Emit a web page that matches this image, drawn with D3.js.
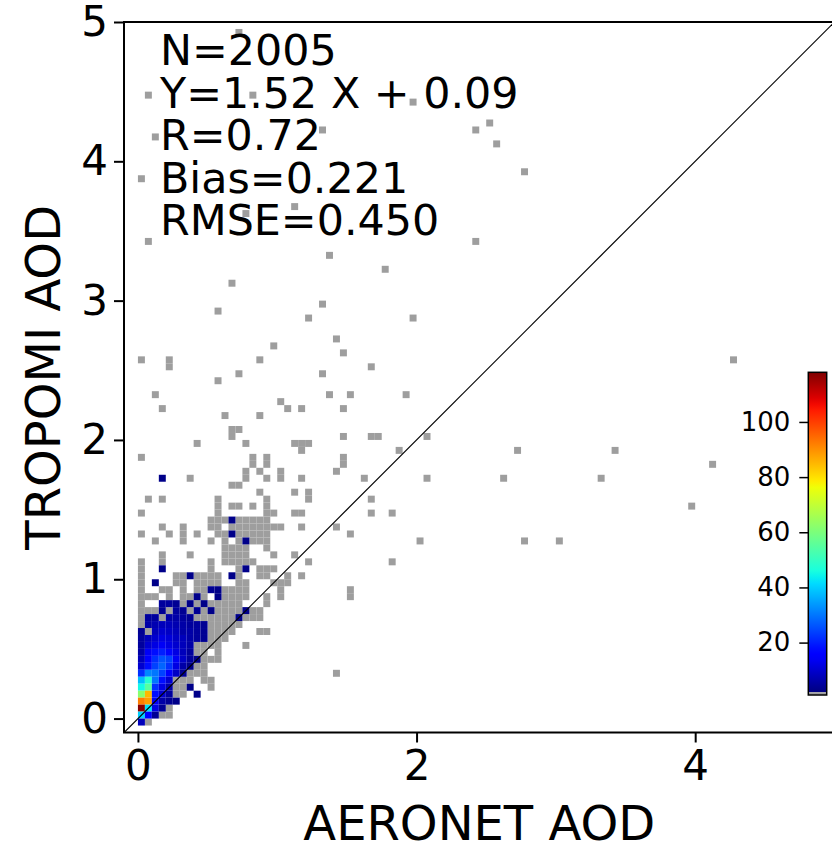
<!DOCTYPE html>
<html>
<head>
<meta charset="utf-8">
<script src="https://cdn.jsdelivr.net/npm/d3@7"></script>
<style>
  html, body { margin: 0; padding: 0; background: #fff; }
  svg { display: block; font-family: "DejaVu Sans", sans-serif; }
</style>
</head>
<body>
<div id="chart"></div>
<script>
// AERONET vs TROPOMI AOD – 2D histogram (bins of 0.05 AOD)
const BIN = 0.05;
const xTicks = [0, 2, 4];
const yTicks = [0, 1, 2, 3, 4, 5];
const cbarTicks = [20, 40, 60, 80, 100];
const statsLines = ["N=2005", "Y=1.52 X + 0.09", "R=0.72", "Bias=0.221", "RMSE=0.450"];

// bins holding a single match (grey): [TROPOMI bin, [AERONET bins]]
const singleRows = [
  [4.90, [0.70]],
  [4.45, [0.05, 0.80]],
  [4.40, [1.95]],
  [4.25, [2.50]],
  [4.20, [1.30, 2.40]],
  [4.15, [0.10]],
  [4.10, [2.55]],
  [3.90, [2.75]],
  [3.85, [0.00]],
  [3.65, [1.10]],
  [3.60, [0.75]],
  [3.40, [0.05, 2.40]],
  [3.30, [1.35]],
  [3.20, [1.75]],
  [3.10, [0.65]],
  [2.95, [1.30]],
  [2.90, [0.55]],
  [2.85, [1.20, 1.95]],
  [2.70, [1.40]],
  [2.65, [0.95]],
  [2.60, [1.45]],
  [2.55, [0.00, 0.20, 0.85, 4.25]],
  [2.50, [0.20, 1.65]],
  [2.45, [0.70, 1.30]],
  [2.40, [0.55]],
  [2.30, [0.10, 1.35, 1.50, 1.90]],
  [2.25, [1.00]],
  [2.20, [0.15, 1.05, 1.15, 1.45]],
  [2.15, [0.60, 0.85]],
  [2.05, [0.65, 0.70]],
  [2.00, [0.65, 1.45, 1.65, 1.70, 2.05]],
  [1.95, [0.40, 0.75, 1.10, 1.15, 1.20]],
  [1.90, [1.15, 1.85, 2.70, 3.40]],
  [1.85, [0.00, 0.80, 0.90, 1.45]],
  [1.80, [0.80, 0.90, 1.45, 4.10]],
  [1.75, [0.75, 0.85, 1.00, 1.40]],
  [1.70, [0.35, 0.75, 0.90, 1.00, 1.15, 1.60, 2.05, 2.60, 3.30]],
  [1.65, [0.65, 0.70]],
  [1.60, [0.85, 1.10, 1.20]],
  [1.55, [0.05, 0.15, 0.55, 0.90, 1.20, 1.65]],
  [1.50, [0.55, 0.65, 0.70, 0.80, 0.90, 3.95]],
  [1.45, [0.00, 0.55, 0.90, 0.95, 1.10, 1.15, 1.65, 1.80]],
  [1.40, [0.50, 0.55, 0.60, 0.70, 0.75, 0.80, 0.85, 0.90]],
  [1.35, [0.15, 0.30, 0.50, 0.55, 0.65, 0.70, 0.75, 0.80, 0.85, 0.90, 0.95, 1.00, 1.15, 1.40]],
  [1.30, [0.00, 0.20, 0.30, 0.40, 0.55, 0.60, 0.70, 0.75, 0.80, 0.85, 0.90, 1.50]],
  [1.25, [0.10, 0.30, 0.50, 0.60, 0.70, 0.80, 0.85, 0.90, 2.00, 2.75, 3.00]],
  [1.20, [0.60, 0.65, 0.70, 0.75, 0.90]],
  [1.15, [0.15, 0.35, 0.60, 0.65, 0.70, 0.75, 0.95, 1.10]],
  [1.10, [0.00, 0.15, 0.50, 0.60, 0.65, 0.70, 0.75, 0.80, 1.20, 1.80]],
  [1.05, [0.00, 0.50, 0.70, 0.85, 0.90, 0.95]],
  [1.00, [0.00, 0.25, 0.30, 0.40, 0.45, 0.50, 0.55, 0.70, 0.85, 0.90, 1.05, 1.15]],
  [0.95, [0.00, 0.25, 0.30, 0.40, 0.45, 0.50, 0.55, 0.70, 0.75, 0.95, 1.00, 1.05]],
  [0.90, [0.00, 0.15, 0.20, 0.30, 0.40, 0.45, 0.60, 0.65, 0.70, 0.75, 1.00, 1.50]],
  [0.85, [0.00, 0.05, 0.10, 0.20, 0.30, 0.35, 0.45, 0.60, 0.65, 0.70, 0.75, 0.90, 1.00, 1.50]],
  [0.80, [0.00, 0.30, 0.40, 0.50, 0.55, 0.60, 0.65, 0.70, 0.90]],
  [0.75, [0.00, 0.05, 0.10, 0.20, 0.35, 0.45, 0.55, 0.60, 0.65, 0.70, 0.80, 0.85]],
  [0.70, [0.00, 0.15, 0.40, 0.45, 0.50, 0.55, 0.60, 0.65, 0.75, 0.80, 0.85]],
  [0.65, [0.00, 0.50, 0.55, 0.60, 0.65, 0.70]],
  [0.60, [0.05, 0.50, 0.55, 0.60, 0.65, 0.85, 0.90]],
  [0.55, [0.50, 0.55, 0.60]],
  [0.50, [0.40, 0.45, 0.50, 0.55, 0.75]],
  [0.45, [0.40, 0.45, 0.55]],
  [0.40, [0.45, 0.50, 0.55]],
  [0.35, [0.40, 0.45]],
  [0.30, [0.35, 0.40, 0.45, 1.40]],
  [0.25, [0.25, 0.30, 0.35, 0.45, 0.50]],
  [0.20, [0.25, 0.30, 0.50]],
  [0.15, [0.25, 0.30]],
  [0.05, [0.20]],
  [0.00, [0.15, 0.20]],
  [-0.05, [0.05]]
];

// bins with 2+ matches (jet colours): [TROPOMI bin, [[AERONET bin, count], ...]]
const countRows = [
  [1.70, [[0.15, 3]]],
  [1.40, [[0.65, 3]]],
  [1.30, [[0.65, 3]]],
  [1.25, [[0.75, 3]]],
  [1.05, [[0.15, 3], [0.75, 3]]],
  [1.00, [[0.35, 3], [0.65, 3]]],
  [0.95, [[0.10, 3]]],
  [0.90, [[0.50, 4], [0.55, 3]]],
  [0.85, [[0.40, 3], [0.55, 3]]],
  [0.80, [[0.15, 5], [0.20, 5], [0.25, 4], [0.35, 3], [0.45, 3]]],
  [0.75, [[0.15, 4], [0.25, 5], [0.30, 4], [0.40, 4], [0.50, 3], [0.75, 3]]],
  [0.70, [[0.05, 5], [0.10, 5], [0.20, 6], [0.25, 6], [0.30, 5], [0.35, 4], [0.70, 3]]],
  [0.65, [[0.05, 6], [0.10, 7], [0.15, 8], [0.20, 8], [0.25, 7], [0.30, 6], [0.35, 5], [0.40, 5], [0.45, 4]]],
  [0.60, [[0.00, 4], [0.10, 8], [0.15, 10], [0.20, 9], [0.25, 8], [0.30, 6], [0.35, 6], [0.40, 5], [0.45, 4]]],
  [0.55, [[0.00, 5], [0.05, 8], [0.10, 10], [0.15, 12], [0.20, 11], [0.25, 9], [0.30, 8], [0.35, 6], [0.40, 5], [0.45, 4]]],
  [0.50, [[0.00, 5], [0.05, 10], [0.10, 12], [0.15, 14], [0.20, 12], [0.25, 10], [0.30, 8], [0.35, 6]]],
  [0.45, [[0.00, 6], [0.05, 14], [0.10, 18], [0.15, 20], [0.20, 17], [0.25, 12], [0.30, 8], [0.35, 5]]],
  [0.40, [[0.00, 8], [0.05, 16], [0.10, 22], [0.15, 26], [0.20, 24], [0.25, 14], [0.30, 9], [0.35, 5], [0.40, 3]]],
  [0.35, [[0.00, 10], [0.05, 18], [0.10, 24], [0.15, 28], [0.20, 22], [0.25, 12], [0.30, 6], [0.35, 3]]],
  [0.30, [[0.00, 22], [0.05, 32], [0.10, 30], [0.15, 24], [0.20, 16], [0.25, 9], [0.30, 4]]],
  [0.25, [[0.00, 38], [0.05, 48], [0.10, 30], [0.15, 18], [0.20, 10]]],
  [0.20, [[0.00, 45], [0.05, 55], [0.10, 22], [0.15, 12], [0.20, 6], [0.35, 3]]],
  [0.15, [[0.00, 62], [0.05, 85], [0.10, 18], [0.15, 10], [0.20, 5], [0.40, 3]]],
  [0.10, [[0.00, 92], [0.05, 88], [0.10, 14], [0.15, 6], [0.20, 4], [0.25, 3]]],
  [0.05, [[0.00, 117], [0.05, 42], [0.10, 12], [0.15, 4]]],
  [0.00, [[0.00, 40], [0.05, 16], [0.10, 4]]],
  [-0.05, [[0.00, 8]]]
];

/* ---------- helpers ---------- */
// matplotlib "jet" segment data
const JET = {
  r: [[0, 0], [0.35, 0], [0.66, 1], [0.89, 1], [1, 0.5]],
  g: [[0, 0], [0.125, 0], [0.375, 1], [0.64, 1], [0.91, 0], [1, 0]],
  b: [[0, 0.5], [0.11, 1], [0.34, 1], [0.65, 0], [1, 0]]
};
function seg(pts, t) {
  for (let k = 1; k < pts.length; k++) {
    if (t <= pts[k][0]) {
      const [t0, v0] = pts[k - 1], [t1, v1] = pts[k];
      return v0 + (v1 - v0) * (t - t0) / (t1 - t0);
    }
  }
  return pts[pts.length - 1][1];
}
const jet = t => {
  t = Math.max(0, Math.min(1, t));
  return d3.rgb(255 * seg(JET.r, t), 255 * seg(JET.g, t), 255 * seg(JET.b, t)).toString();
};
const GREY = "#9e9e9e";
const CMIN = 1, CMAX = 118;
const countColor = n => n < 2 ? GREY : jet((n - 2) / (CMAX - 2));

const cells = [];
singleRows.forEach(([yb, xs]) => xs.forEach(xb => cells.push({ x: xb, y: yb, n: 1 })));
countRows.forEach(([yb, row]) => row.forEach(([xb, n]) => cells.push({ x: xb, y: yb, n })));

/* ---------- layout ---------- */
const W = 832, H = 845;
const plot = { left: 124, top: 22, size: 710.5 };
const x = d3.scaleLinear().domain([-0.1, 5]).range([plot.left, plot.left + plot.size]);
const y = d3.scaleLinear().domain([-0.1, 5]).range([plot.top + plot.size, plot.top]);

const svg = d3.select("#chart").append("svg").attr("width", W).attr("height", H);

svg.append("clipPath").attr("id", "clip")
  .append("rect")
  .attr("x", plot.left).attr("y", plot.top)
  .attr("width", plot.size).attr("height", plot.size);

const body = svg.append("g").attr("clip-path", "url(#clip)");

// histogram cells
body.selectAll("rect.cell")
  .data(cells).join("rect")
  .attr("class", "cell")
  .attr("x", d => x(d.x))
  .attr("y", d => y(d.y + BIN))
  .attr("width", d => x(d.x + BIN) - x(d.x))
  .attr("height", d => y(d.y) - y(d.y + BIN))
  .attr("fill", d => countColor(d.n));

// 1:1 line
body.append("line")
  .attr("x1", x(-0.1)).attr("y1", y(-0.1))
  .attr("x2", x(5)).attr("y2", y(5))
  .attr("stroke", "#000").attr("stroke-width", 1.2);

// axes
const axX = svg.append("g")
  .attr("transform", `translate(0,${plot.top + plot.size})`)
  .call(d3.axisBottom(x).tickValues(xTicks).tickFormat(d3.format("d"))
    .tickSize(10).tickPadding(8).tickSizeOuter(0));
const axY = svg.append("g")
  .attr("transform", `translate(${plot.left},0)`)
  .call(d3.axisLeft(y).tickValues(yTicks).tickFormat(d3.format("d"))
    .tickSize(10).tickPadding(6).tickSizeOuter(0));
[axX, axY].forEach(g => {
  g.select(".domain").remove();
  g.selectAll(".tick line").attr("stroke", "#000").attr("stroke-width", 2);
  g.selectAll(".tick text").attr("fill", "#000")
    .style("font-family", "DejaVu Sans").style("font-size", "42px");
});

// spines
svg.append("rect")
  .attr("x", plot.left).attr("y", plot.top)
  .attr("width", plot.size).attr("height", plot.size)
  .attr("fill", "none").attr("stroke", "#000").attr("stroke-width", 2);

// axis titles
svg.append("text")
  .attr("x", plot.left + plot.size / 2).attr("y", 840)
  .attr("text-anchor", "middle")
  .style("font-size", "48px")
  .text("AERONET AOD");
svg.append("text")
  .attr("transform", `translate(60,${plot.top + plot.size / 2}) rotate(-90)`)
  .attr("text-anchor", "middle")
  .style("font-size", "48px")
  .text("TROPOMI AOD");

// statistics
svg.append("g").selectAll("text")
  .data(statsLines).join("text")
  .attr("x", plot.left + 36)
  .attr("y", (d, i) => plot.top + 43 + i * 42.5)
  .style("font-size", "42.8px")
  .text(d => d);

/* ---------- colorbar ---------- */
const cb = { x: 808.3, w: 18.4, top: 372.3, bottom: 695 };
const c = d3.scaleLinear().domain([CMIN, CMAX]).range([cb.bottom, cb.top]);

const grad = svg.append("defs").append("linearGradient")
  .attr("id", "jetgrad")
  .attr("x1", 0).attr("y1", 1).attr("x2", 0).attr("y2", 0);
d3.range(0, 1.0001, 0.02).forEach(t => {
  grad.append("stop").attr("offset", t).attr("stop-color", jet(t));
});

svg.append("rect")
  .attr("x", cb.x).attr("y", c(CMAX))
  .attr("width", cb.w).attr("height", c(2) - c(CMAX))
  .attr("fill", "url(#jetgrad)");
svg.append("rect")
  .attr("x", cb.x).attr("y", c(2))
  .attr("width", cb.w).attr("height", c(CMIN) - c(2))
  .attr("fill", GREY);
svg.append("rect")
  .attr("x", cb.x).attr("y", cb.top)
  .attr("width", cb.w).attr("height", cb.bottom - cb.top)
  .attr("fill", "none").attr("stroke", "#000").attr("stroke-width", 1.5);

const axC = svg.append("g")
  .attr("transform", `translate(${cb.x},0)`)
  .call(d3.axisLeft(c).tickValues(cbarTicks).tickSize(9).tickPadding(9).tickSizeOuter(0));
axC.select(".domain").remove();
axC.selectAll(".tick line").attr("stroke", "#000").attr("stroke-width", 1.5);
axC.selectAll(".tick text").attr("fill", "#000")
  .style("font-family", "DejaVu Sans").style("font-size", "26px");
</script>
</body>
</html>
